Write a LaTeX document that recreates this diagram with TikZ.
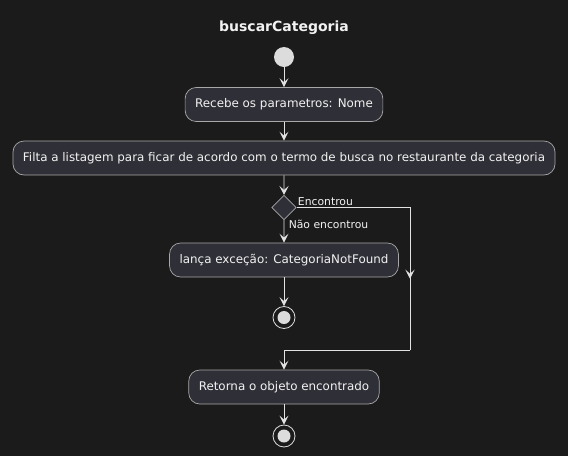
\documentclass[tikz,border=0pt]{standalone}
\usepackage{fontspec}
\setmainfont{DejaVu Sans}
\usetikzlibrary{positioning,arrows.meta,calc}
\definecolor{fundo}{HTML}{1B1B1B}
\definecolor{caixa}{HTML}{2F2F37}
\definecolor{borda}{HTML}{A8A8A8}
\definecolor{linha}{HTML}{E2E2E2}
\definecolor{texto}{HTML}{F2F2F2}
\definecolor{ponto}{HTML}{DCDCDC}

\begin{document}
\begin{tikzpicture}[x=1pt,y=-1pt,font=\fontsize{10.8}{12}\selectfont,text=texto]
    \tikzstyle{acao}=[draw=borda, fill=caixa, rounded corners=11pt, minimum height=34pt, inner xsep=10pt, line width=0.7pt,
        font=\fontsize{11.9}{14}\selectfont, on grid]
    \tikzstyle{inicio}=[circle, fill=ponto, minimum size=20pt, inner sep=0pt, on grid]
    \tikzstyle{fim}=[circle, draw=ponto, line width=0.8pt, minimum size=22pt, inner sep=0pt, on grid,
        path picture={\fill[ponto] (path picture bounding box.center) circle (6.5pt);}]
    \tikzstyle{decisao}=[draw=borda, fill=caixa, line width=0.7pt, minimum size=17pt, inner sep=0pt, rotate=45, on grid]
    \tikzstyle{fluxo}=[draw=linha, line width=0.9pt, -{Stealth[length=9pt,width=9pt,inset=4pt]}]
    \tikzstyle{traco}=[draw=linha, line width=0.9pt]

    \useasboundingbox[fill=fundo] (0,0) rectangle (568,456);

    \node[font=\fontsize{14}{16}\selectfont\bfseries] (titulo) at (284,28) {buscarCategoria};

    \node[inicio] (start) at (284,57) {};
    \node[acao,below=47.5pt of start] (recebe) {Recebe os parametros: Nome};
    \node[acao,below=53.5pt of recebe] (filtra) {Filta a listagem para ficar de acordo com o termo de busca no restaurante da categoria};
    \node[decisao,below=49.5pt of filtra] (dec) {};
    \node[acao,below=52.5pt of dec] (lanca) {lança exceção: CategoriaNotFound};
    \node[fim,below=57.5pt of lanca] (fim1) {};
    \node[acao,below=69.5pt of fim1] (retorna) {Retorna o objeto encontrado};
    \node[fim,below=49pt of retorna] (fim2) {};

    \coordinate (desvio) at (410,207.5);
    \coordinate (junta) at (410,350);

    \draw[fluxo] (start) -- (recebe);
    \draw[fluxo] (recebe) -- (filtra);
    \draw[fluxo] (filtra) -- (dec);
    \draw[fluxo] (dec) -- node[pos=0.2,anchor=west,xshift=1pt] {Não encontrou} (lanca);
    \draw[fluxo] (lanca) -- (fim1);
    \draw[traco] (dec.south east) -- node[pos=0,anchor=south west,inner sep=1pt] {Encontrou} (desvio) -- (junta);
    \draw[fluxo] (desvio) -- ($(desvio)!0.5!(junta)$);
    \draw[fluxo] (junta) -| (retorna);
    \draw[fluxo] (retorna) -- (fim2);
\end{tikzpicture}
\end{document}
